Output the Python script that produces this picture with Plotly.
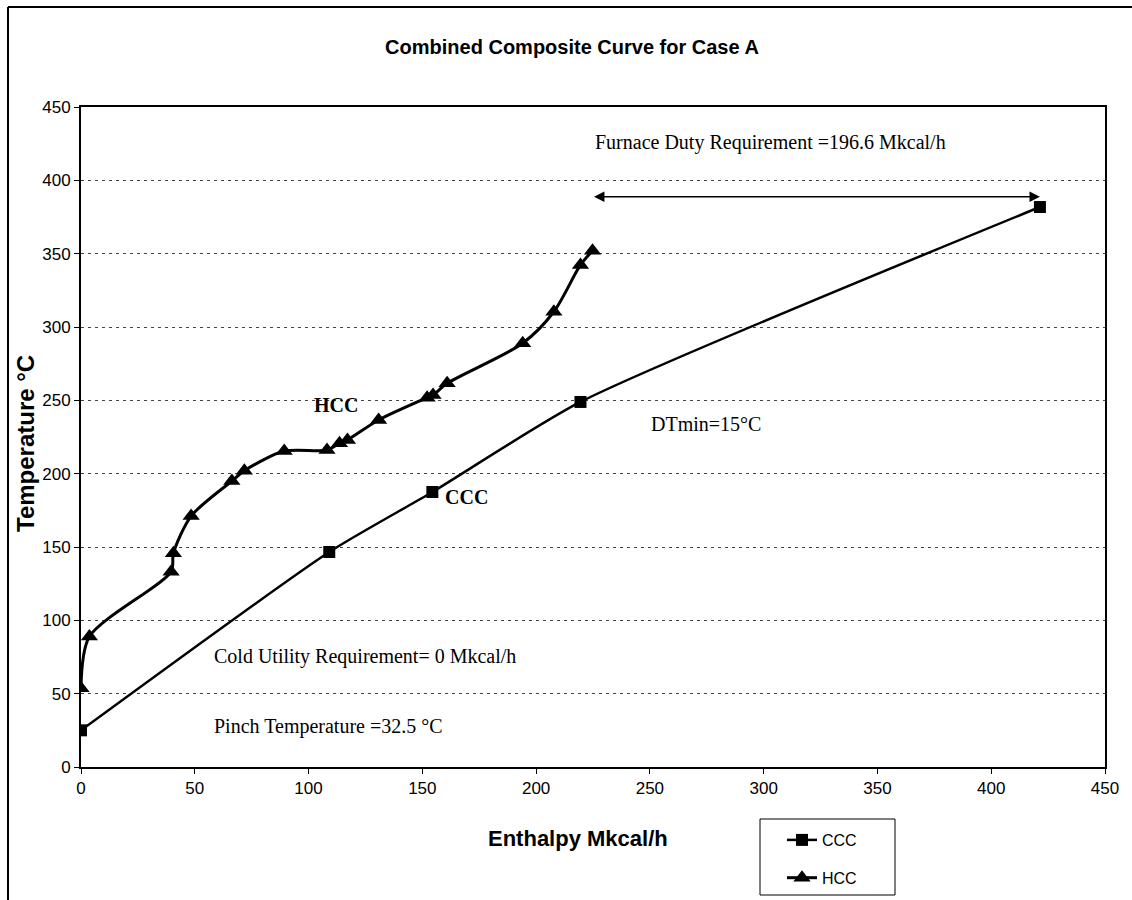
import plotly.graph_objects as go

# ---------------- data ----------------
ccc_enthalpy = [0.0, 109.1, 154.4, 219.5, 421.4]
ccc_temp = [25.0, 146.6, 187.5, 248.9, 381.8]

hcc_enthalpy = [0.0, 3.7, 39.6, 40.6, 48.4, 66.3, 71.8, 89.3, 108.1, 113.6, 117.1,
                130.8, 152.1, 154.7, 160.9, 194.1, 207.8, 219.5, 224.8]
hcc_temp = [53.7, 88.9, 133.2, 145.7, 171.1, 195.0, 202.0, 215.4, 216.1, 220.7, 223.0,
            236.6, 251.8, 253.6, 261.6, 288.9, 310.4, 342.3, 352.0]

x_ticks = [0, 50, 100, 150, 200, 250, 300, 350, 400, 450]
y_ticks = [0, 50, 100, 150, 200, 250, 300, 350, 400, 450]

title_text = "Combined Composite Curve for Case A"
x_title = "Enthalpy Mkcal/h"
y_title = "Temperature °C"
furnace_duty = 196.6

SANS = "Liberation Sans, Arial, sans-serif"
SERIF = "Liberation Serif, Times New Roman, serif"

# pixel helpers for layout placement (plot area: x 81..1105, y 107..767)
def px(xp):
    return (xp - 81) / 1024.0

def py(yp):
    return (767 - yp) / 660.0

fig = go.Figure()

fig.add_trace(go.Scatter(
    x=ccc_enthalpy, y=ccc_temp, name="CCC", mode="lines+markers",
    line=dict(color="black", width=2.5, shape="spline", smoothing=0.6),
    marker=dict(symbol="square", size=12, color="black"),
    legendgroup="a",
))
fig.add_trace(go.Scatter(
    x=hcc_enthalpy, y=hcc_temp, name="HCC", mode="lines+markers",
    line=dict(color="black", width=3, shape="spline", smoothing=0.8),
    marker=dict(symbol="triangle-up", size=15, color="black"),
    legendgroup="b",
))

# double-headed furnace-duty arrow between the curve ends
arrow_y = ccc_temp[-1] + 7
fig.add_annotation(
    x=ccc_enthalpy[-1], y=arrow_y, ax=hcc_enthalpy[-1], ay=arrow_y,
    xref="x", yref="y", axref="x", ayref="y", text="",
    showarrow=True, arrowhead=2, startarrowhead=2, arrowside="end+start",
    arrowsize=1.3, startarrowsize=1.3, arrowwidth=1.6, arrowcolor="black",
)

serif_notes = [
    (224.8, 426.1, f"Furnace Duty Requirement ={furnace_duty} Mkcal/h", False),
    (249.4, 233.9, "DTmin=15°C", False),
    (57.6, 75.2, "Cold Utility Requirement= 0 Mkcal/h", False),
    (57.6, 27.5, "Pinch Temperature =32.5 °C", False),
    (101.6, 246.8, "HCC", True),
    (159.2, 184.1, "CCC", True),
]
for x, y, t, b in serif_notes:
    fig.add_annotation(
        x=x, y=y, xref="x", yref="y", text=f"<b>{t}</b>" if b else t,
        showarrow=False, xanchor="left", yanchor="middle",
        font=dict(family=SERIF, size=20, color="black"),
    )

# axis titles as annotations for exact placement
fig.add_annotation(
    x=px(578), y=py(838), xref="paper", yref="paper", text=f"<b>{x_title}</b>",
    showarrow=False, xanchor="center", yanchor="middle",
    font=dict(family=SANS, size=22, color="black"),
)
fig.add_annotation(
    x=px(25), y=py(444), xref="paper", yref="paper", text=f"<b>{y_title}</b>",
    showarrow=False, xanchor="center", yanchor="middle", textangle=-90,
    font=dict(family=SANS, size=24, color="black"),
)

# outer chart border (top and left edges visible in the scan)
fig.add_shape(type="line", xref="paper", yref="paper",
              x0=px(8), x1=px(1132), y0=py(7), y1=py(7),
              line=dict(color="black", width=2))
fig.add_shape(type="line", xref="paper", yref="paper",
              x0=px(8), x1=px(8), y0=py(7), y1=py(900),
              line=dict(color="black", width=2))
# legend frame
fig.add_shape(type="rect", xref="paper", yref="paper",
              x0=px(760), x1=px(895), y0=py(819), y1=py(895),
              line=dict(color="black", width=1), fillcolor="white", layer="below")

fig.update_layout(
    width=1132, height=900, autosize=False,
    margin=dict(l=81, r=27, t=107, b=133, autoexpand=False),
    paper_bgcolor="white", plot_bgcolor="white",
    title=dict(text=f"<b>{title_text}</b>", x=572 / 1132, xanchor="center",
               y=1 - 47 / 900, yanchor="middle",
               font=dict(family=SANS, size=20, color="black")),
    showlegend=True,
    legend=dict(
        x=px(782), y=py(823), xanchor="left", yanchor="top",
        borderwidth=0, bgcolor="rgba(0,0,0,0)",
        font=dict(family=SANS, size=16, color="black"),
        traceorder="grouped", tracegroupgap=14,
    ),
    font=dict(family=SANS, color="black"),
)

fig.update_xaxes(
    range=[0, 450], tickvals=x_ticks, ticktext=[str(v) for v in x_ticks],
    showgrid=False, zeroline=False,
    showline=True, linecolor="black", linewidth=2, mirror=True,
    ticks="outside", ticklen=5, tickcolor="black",
    tickfont=dict(family=SANS, size=17, color="black"),
)
fig.update_yaxes(
    range=[0, 450], tickvals=y_ticks, ticktext=[str(v) for v in y_ticks],
    showgrid=True, gridcolor="#444444", gridwidth=1, griddash="3px,4px",
    zeroline=False,
    showline=True, linecolor="black", linewidth=2, mirror=True,
    ticks="outside", ticklen=5, tickcolor="black",
    tickfont=dict(family=SANS, size=17, color="black"),
)

fig.write_html("out.html")
